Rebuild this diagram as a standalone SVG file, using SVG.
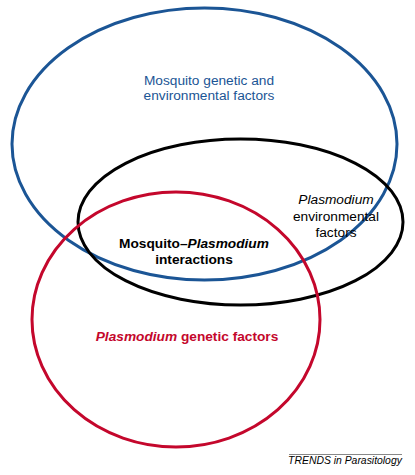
<svg xmlns="http://www.w3.org/2000/svg" width="415" height="475" viewBox="0 0 415 475">
<style>
text{font-family:"Liberation Sans",Arial,sans-serif;font-size:13.7px;text-anchor:middle}
.set{fill:none;stroke-width:3}
.blue{fill:#1b5595}
.red{fill:#c4072c}
.b{font-weight:bold}
.i{font-style:italic}
</style>
<rect width="415" height="475" fill="#fff"/>
<g id="mosquito">
<ellipse class="set" cx="204.5" cy="144" rx="192.5" ry="136" stroke="#1b5595"/>
<text class="blue" x="209" y="85">Mosquito genetic and</text>
<text class="blue" x="209" y="100">environmental factors</text>
</g>
<g id="plasmodium-env">
<ellipse class="set" cx="240.5" cy="222" rx="162.5" ry="83" stroke="#000"/>
<text x="336" y="204" class="i">Plasmodium</text>
<text x="336" y="221">environmental</text>
<text x="336" y="237">factors</text>
</g>
<g id="plasmodium-gen">
<ellipse class="set" cx="176" cy="319.5" rx="144" ry="127.5" stroke="#c4072c"/>
<text class="red b" x="187" y="341"><tspan class="i">Plasmodium</tspan> genetic factors</text>
</g>
<g id="interactions">
<text class="b" x="194" y="248">Mosquito–<tspan class="i">Plasmodium</tspan></text>
<text class="b" x="194" y="264">interactions</text>
</g>
<g id="credit">
<line x1="289" y1="454.5" x2="402" y2="454.5" stroke="#555" stroke-width="0.7"/>
<text x="345" y="464" class="i" style="font-size:10.4px">TRENDS in Parasitology</text>
</g>
</svg>
